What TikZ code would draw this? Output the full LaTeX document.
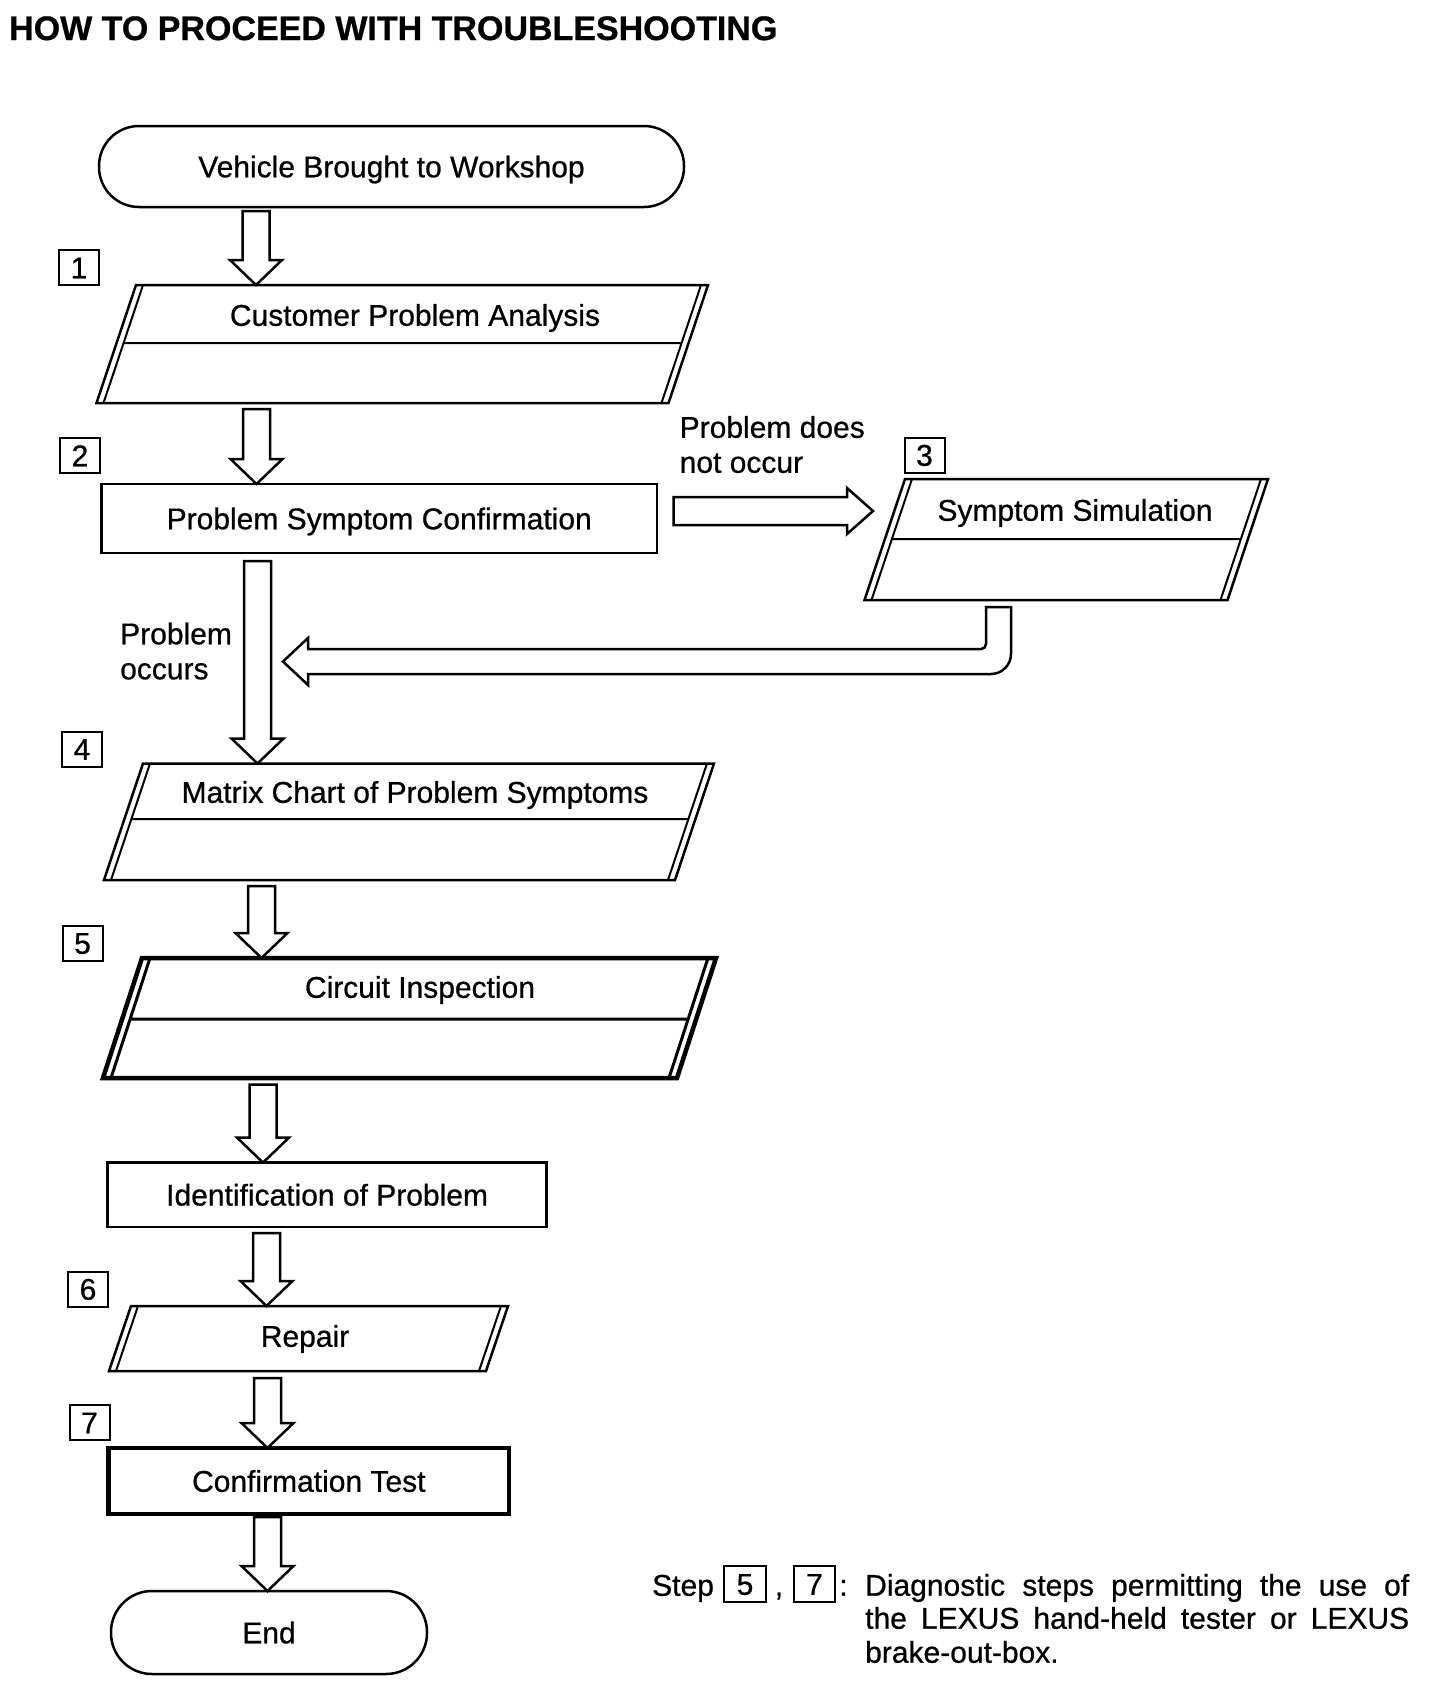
\documentclass[tikz,border=0pt]{standalone}
\usepackage{fontspec}
\setmainfont{Liberation Sans}[FakeBold=0.7]
\usetikzlibrary{calc}
\tikzset{
  lbl/.style={inner sep=0pt, text height=21.5pt, text depth=0pt, font=\fontsize{30}{36}\selectfont},
  outl/.style={draw, line width=2.5pt, line join=miter},
  innerl/.style={draw, line width=2pt},
  thickl/.style={draw, line width=4.5pt, line join=miter},
  thickinner/.style={draw, line width=3pt},
  numbox/.style={lbl, draw, line width=2pt, minimum width=40pt, minimum height=35pt},
  blockarrow/.style={draw, line width=2.5pt, fill=white, line join=miter},
  rectbox/.style={lbl, draw, line width=2.5pt},
}
\newcommand\bdarrow[2]{\draw[blockarrow] ($(#1)+(-13.5,0)$) -- ($(#2)+(-13.5,-25)$) -- ($(#2)+(-26,-25)$) -- (#2) -- ($(#2)+(26,-25)$) -- ($(#2)+(13.5,-25)$) -- ($(#1)+(13.5,0)$) -- cycle;}
\newcommand\brarrow[2]{\draw[blockarrow] ($(#1)+(0,-14)$) -- ($(#2)+(-26,-14)$) -- ($(#2)+(-26,-23)$) -- (#2) -- ($(#2)+(-26,23)$) -- ($(#2)+(-26,14)$) -- ($(#1)+(0,14)$) -- cycle;}
\begin{document}
\begin{tikzpicture}[x=1pt,y=-1pt]
\fill[white] (0,0) rectangle (1456,1708);
\useasboundingbox (0,0) rectangle (1456,1708);

% title
\node[anchor=base west, inner sep=0pt, font=\fontsize{34}{40}\selectfont\bfseries] (title) at (9,40) {HOW TO PROCEED WITH TROUBLESHOOTING};

% start
\node[rectbox, rounded corners=40pt, minimum width=585pt, minimum height=81pt] (start) at (391.5,166.5) {Vehicle Brought to Workshop};

% step 1
\node[numbox] (n1) at (79,267.5) {1};
\draw[outl] (136,285) -- (708,285) -- (668.5,403) -- (96.5,403) -- cycle;
\draw[innerl] (143,285) -- (103.5,403) (701,285) -- (661.5,403) (123.6,343) -- (681.6,343);
\node[lbl] (cpa) at (415,315) {Customer Problem Analysis};

% step 2
\node[numbox] (n2) at (80,455.5) {2};
\node[rectbox, minimum width=555.5pt, minimum height=69pt] (psc) at (379.25,518.5) {Problem Symptom Confirmation};

% step 3
\node[lbl, anchor=west] (pd1) at (679.5,427) {Problem does};
\node[lbl, anchor=west] (pd2) at (679.5,462) {not occur};
\node[numbox] (n3) at (924.5,455) {3};
\draw[outl] (905,479) -- (1268,479) -- (1227.5,600) -- (864.5,600) -- cycle;
\draw[innerl] (912,479) -- (871.5,600) (1261,479) -- (1220.5,600) (891.9,539) -- (1240.9,539);
\node[lbl] (ss) at (1075,510) {Symptom Simulation};

% problem occurs
\node[lbl, anchor=west] (po1) at (120,633.5) {Problem};
\node[lbl, anchor=west] (po2) at (120,668.5) {occurs};

% step 4
\node[numbox] (n4) at (82,749) {4};
\draw[outl] (143,763.5) -- (714,763.5) -- (675,880) -- (104,880) -- cycle;
\draw[innerl] (150,763.5) -- (111,880) (707,763.5) -- (668,880) (131.4,819) -- (688.4,819);
\node[lbl] (mcp) at (415,792) {Matrix Chart of Problem Symptoms};

% step 5
\node[numbox] (n5) at (82.5,943) {5};
\draw[thickl] (142,958) -- (716,958) -- (677,1078) -- (103,1078) -- cycle;
\draw[thickinner] (150,958) -- (111,1078) (708,958) -- (669,1078) (130.2,1019) -- (688.2,1019);
\node[lbl] (ci) at (420,987) {Circuit Inspection};

% identification
\node[rectbox, minimum width=439pt, minimum height=64.4pt] (idp) at (327.1,1194.8) {Identification of Problem};

% step 6
\node[numbox] (n6) at (88,1289) {6};
\draw[outl] (131,1306) -- (508,1306) -- (486,1371) -- (109,1371) -- cycle;
\draw[innerl] (138,1306) -- (116,1371) (501,1306) -- (479,1371);
\node[lbl] (rep) at (305,1336) {Repair};

% step 7
\node[numbox] (n7) at (89.5,1422.5) {7};
\node[lbl, draw, line width=4.5pt, minimum width=400.4pt, minimum height=66pt] (ct) at (308.8,1481) {Confirmation Test};

% end
\node[rectbox, rounded corners=41pt, minimum width=316pt, minimum height=83pt] (end) at (269,1632.5) {End};

% arrow coordinates
\coordinate (a1s) at (256,211);   \coordinate (a1e) at (256,285);
\coordinate (a2s) at (256.5,409); \coordinate (a2e) at (256.5,484);
\coordinate (a3s) at (257.5,561); \coordinate (a3e) at (257.5,763.5);
\coordinate (a4s) at (261.5,886); \coordinate (a4e) at (261.5,958);
\coordinate (a5s) at (263,1084.5); \coordinate (a5e) at (263,1162.6);
\coordinate (a6s) at (266.5,1233); \coordinate (a6e) at (266.5,1306);
\coordinate (a7s) at (267.5,1378); \coordinate (a7e) at (267.5,1448);
\coordinate (a8s) at (267.5,1517); \coordinate (a8e) at (267.5,1591);
\coordinate (rs) at (673.6,511);  \coordinate (re) at (873,511);
\coordinate (r1) at (998.5,607);  \coordinate (r2) at (283,661.5);

\bdarrow{a1s}{a1e}
\bdarrow{a2s}{a2e}
\bdarrow{a3s}{a3e}
\bdarrow{a4s}{a4e}
\bdarrow{a5s}{a5e}
\bdarrow{a6s}{a6e}
\bdarrow{a7s}{a7e}
\bdarrow{a8s}{a8e}
\brarrow{rs}{re}
\draw[blockarrow] ($(r1)+(-12.5,0)$) -- ($(r1)+(12.5,0)$) -- ($(r1)+(12.5,47)$)
  .. controls ($(r1)+(12.5,58)$) and ($(r1)+(3.5,67)$) .. ($(r1)+(-7.5,67)$)
  -- ($(r2)+(25,12.5)$) -- ($(r2)+(25,23.5)$) -- (r2) -- ($(r2)+(25,-23.5)$) -- ($(r2)+(25,-12.5)$)
  -- ($(r1)+(-17.5,42)$) .. controls ($(r1)+(-15,42)$) and ($(r1)+(-12.5,40)$) .. ($(r1)+(-12.5,37)$) -- cycle;

% note
\node[lbl, anchor=west] (stp) at (652,1585) {Step};
\node[numbox, minimum width=42pt, minimum height=36pt] (s5) at (745,1584) {5};
\node[lbl, anchor=base] (comma) at (779,1595.7) {,};
\node[numbox, minimum width=41pt, minimum height=36pt] (s7) at (814.5,1584) {7};
\node[lbl, anchor=base] (colon) at (843.5,1595.7) {:};
\node[lbl, anchor=base west] (nt1) at (865,1595.7) {\makebox[544pt][s]{Diagnostic steps permitting the use of}};
\node[lbl, anchor=base west] (nt2) at (865,1628.7) {\makebox[544pt][s]{the LEXUS hand-held tester or LEXUS}};
\node[lbl, anchor=base west] (nt3) at (865,1662.7) {brake-out-box.};
\end{tikzpicture}
\end{document}
